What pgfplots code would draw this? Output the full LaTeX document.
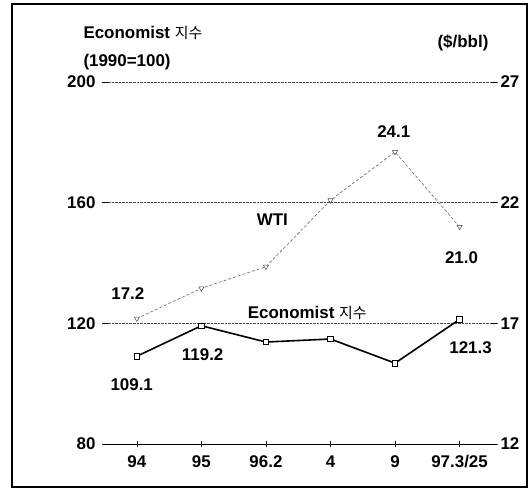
\documentclass[border=0pt]{standalone}
\usepackage{pgfplots}
\pgfplotsset{compat=1.18}
\usepackage{fontspec}
\setmainfont{Liberation Sans}
\newfontfamily\kr{Noto Sans CJK KR}
\newcommand{\lbl}{\fontsize{17}{17}\selectfont\bfseries}
\newcommand{\jisu}{{\kr\mdseries\fontsize{15}{15}\selectfont 지수}}
\begin{document}
\begin{tikzpicture}[x=1bp,y=1bp]
\useasboundingbox (0,0) rectangle (531,492);
\draw[line width=1.2bp] (12,5) rectangle (527,488);
\begin{axis}[
  at={(102bp,48bp)}, anchor=south west,
  scale only axis, width=395bp, height=362bp,
  xmin=-0.54, xmax=5.58, ymin=80, ymax=200,
  xtick={0,...,5}, xticklabels={94,95,96.2,4,9,97.3/25},
  ytick={80,120,160,200},
  axis x line*=bottom, axis y line*=left,
  y axis line style={draw=none},
  x axis line style={-, line width=0.8bp},
  ymajorgrids, grid style={densely dotted, black!70, line width=0.6bp},
  major tick length=6bp,
  xtick align=center, ytick align=inside,
  tick style={black, line width=0.6bp},
  tick label style={font=\lbl},
  yticklabel style={xshift=-3bp},
  xticklabel style={yshift=-5bp},
  clip=false,
  /pgf/number format/assume math mode=true,
]
\addplot[black, line width=1.6bp, mark=square*, mark options={fill=white, line width=0.7bp}, mark size=2.8bp]
  coordinates {(0,109.1)(1,119.2)(2,113.8)(3,114.8)(4,106.8)(5,121.3)};
\node[font=\lbl] at (axis cs:-0.14,130.0) {17.2};
\node[font=\lbl] at (axis cs:-0.08,99.6) {109.1};
\node[font=\lbl] at (axis cs:1.02,109.5) {119.2};
\node[font=\lbl] at (axis cs:2.64,123.4) {Economist \jisu};
\node[font=\lbl] at (axis cs:5.17,111.8) {121.3};
\node[font=\lbl] at (axis cs:2.1,154.2) {WTI};
\node[font=\lbl] at (axis cs:3.98,183.4) {24.1};
\node[font=\lbl] at (axis cs:5.03,141.6) {21.0};
\end{axis}
\begin{axis}[
  at={(102bp,48bp)}, anchor=south west,
  scale only axis, width=395bp, height=362bp,
  xmin=-0.54, xmax=5.58, ymin=12, ymax=27,
  axis x line=none, axis y line*=right,
  y axis line style={draw=none},
  ytick={12,17,22,27},
  major tick length=6bp, ytick align=inside,
  tick style={black, line width=0.6bp},
  tick label style={font=\lbl},
  clip=false,
  /pgf/number format/assume math mode=true,
]
\addplot[black!60, densely dashed, line width=0.6bp, mark=triangle*, mark options={solid, fill=white, rotate=180, line width=0.5bp, draw=black!70}, mark size=3bp]
  coordinates {(0,17.2)(1,18.45)(2,19.35)(3,22.1)(4,24.1)(5,21.0)};
\end{axis}
\node[anchor=west, font=\lbl] at (80,459) {Economist \jisu};
\node[anchor=west, font=\lbl] at (80,430) {(1990=100)};
\node[font=\lbl] at (463,449) {(\$/bbl)};
\end{tikzpicture}
\end{document}
